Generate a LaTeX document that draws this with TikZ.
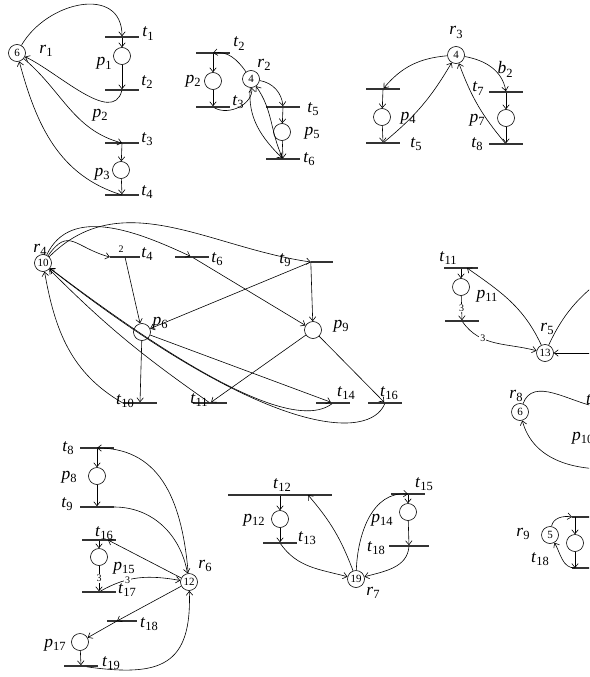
\documentclass[tikz,border=0pt]{standalone}
\usepackage{fontspec}
\setmainfont{Liberation Serif}
\usetikzlibrary{arrows.meta}

\newcommand{\nm}[2]{\textit{#1}\raisebox{-3.5pt}{\fontsize{12.5}{12.5}\selectfont #2}}

\begin{document}
\begin{tikzpicture}[x=1pt,y=1pt,
    place/.style={circle,draw,line width=0.6pt,minimum size=17pt,inner sep=0pt,font=\fontsize{11}{11}\selectfont},
    bar/.style={fill=black!80,minimum width=34pt,minimum height=1.2pt,inner sep=0pt},
    arr/.style={-{Straight Barb[length=4pt,width=6.5pt]},line width=0.6pt},
    lbl/.style={inner sep=0pt,anchor=base,font=\fontsize{17.5}{18}\selectfont},
    wt/.style={inner sep=0.8pt,fill=white,font=\fontsize{10}{10}\selectfont}
  ]
  \useasboundingbox (0,0) rectangle (589,-677);
  \clip (0,0) rectangle (589,-677);

  \node[place] (r1) at (17,-53) {6};
  \node[bar] (t1) at (122,-37) {};
  \node[place] (p1) at (122,-56) {};
  \node[bar] (t2) at (122,-90) {};
  \node[bar] (t3) at (122,-143) {};
  \node[place] (p3) at (121,-170) {};
  \node[bar] (t4) at (122,-195) {};
  \node[lbl] (lr1) at (46,-53) {\nm{r}{1}};
  \node[lbl] (lt1) at (148,-37) {\nm{t}{1}};
  \node[lbl] (lp1) at (104,-66) {\nm{p}{1}};
  \node[lbl] (lt2) at (147,-85) {\nm{t}{2}};
  \node[lbl] (lp2) at (100,-117) {\nm{p}{2}};
  \node[lbl] (lt3) at (147,-142) {\nm{t}{3}};
  \node[lbl] (lp3) at (102,-176) {\nm{p}{3}};
  \node[lbl] (lt4) at (147,-195) {\nm{t}{4}};
  \draw[arr] (r1) to[out=60,in=90,looseness=1.3] (t1);
  \draw[arr] (t1) -- (p1);
  \draw[arr] (p1) -- (t2);
  \draw[arr] (t2) to[out=-105,in=-25,looseness=0.9] (r1);
  \draw[arr] (r1) to[out=-40,in=165] (t3.center);
  \draw[arr] (t3) -- (p3);
  \draw[arr] (p3) -- (t4);
  \draw[arr] (t4.center) to[out=163,in=-75] (r1);

  \node[place] (r2) at (251,-79) {4};
  \node[bar] (r2t2) at (213,-53) {};
  \node[place] (r2p2) at (213,-81) {};
  \node[bar] (r2t3) at (213,-107) {};
  \node[bar] (r2t5) at (283,-107) {};
  \node[place] (r2p5) at (282,-132) {};
  \node[bar] (r2t6) at (283,-159) {};
  \node[lbl] (lr2) at (264,-67) {\nm{r}{2}};
  \node[lbl] (lr2t2) at (239,-47) {\nm{t}{2}};
  \node[lbl] (lr2p2) at (193,-83) {\nm{p}{2}};
  \node[lbl] (lr2t3) at (238,-105) {\nm{t}{3}};
  \node[lbl] (lr2t5) at (313,-112) {\nm{t}{5}};
  \node[lbl] (lr2p5) at (312,-135) {\nm{p}{5}};
  \node[lbl] (lr2t6) at (309,-162) {\nm{t}{6}};
  \draw[arr] (r2) to[out=125,in=10] (r2t2.center);
  \draw[arr] (r2t2) -- (r2p2);
  \draw[arr] (r2p2) -- (r2t3);
  \draw[arr] (r2t3) to[out=-30,in=-85] (r2);
  \draw[arr] (r2) to[out=-10,in=95] (r2t5);
  \draw[arr] (r2t5) -- (r2p5);
  \draw[arr] (r2p5) -- (r2t6);
  \draw[arr] (r2) to[out=-95,in=135] (r2t6);
  \draw[arr] (r2t6) to[out=115,in=-55] (r2);

  \node[place] (r3) at (456,-55) {4};
  \node[bar] (r3t4) at (383,-89) {};
  \node[place] (r3p4) at (382,-117) {};
  \node[bar] (r3t5) at (383,-143) {};
  \node[bar] (r3t7) at (506,-92) {};
  \node[place] (r3p7) at (506,-118) {};
  \node[bar] (r3t8) at (506,-144) {};
  \node[lbl] (lr3) at (456,-35) {\nm{r}{3}};
  \node[lbl] (lr3p4) at (408,-120) {\nm{p}{4}};
  \node[lbl] (lr3t5) at (416,-147) {\nm{t}{5}};
  \node[lbl] (lr3t7) at (478,-92) {\nm{t}{7}};
  \node[lbl] (lr3b2) at (505,-74) {\nm{b}{2}};
  \node[lbl] (lr3p7) at (477,-122) {\nm{p}{7}};
  \node[lbl] (lr3t8) at (477,-147) {\nm{t}{8}};
  \draw[arr] (r3) to[out=185,in=50] (r3t4);
  \draw[arr] (r3t4) -- (r3p4);
  \draw[arr] (r3p4) -- (r3t5);
  \draw[arr] (r3t5) to[bend right=10] (r3);
  \draw[arr] (r3) to[out=-10,in=100] (r3t7);
  \draw[arr] (r3t7) -- (r3p7);
  \draw[arr] (r3p7) -- (r3t8);
  \draw[arr] (r3t8) to[bend left=10] (r3);

  \node[place] (r4) at (43,-263) {10};
  \node[bar,minimum width=30pt] (r4t4) at (125,-257) {};
  \node[bar] (r4t6) at (192,-257) {};
  \node[bar,minimum width=22pt] (r4t9) at (322,-262) {};
  \node[place] (r4p6) at (142,-332) {};
  \node[place] (r4p9) at (313,-330) {};
  \node[bar] (r4t10) at (140,-403) {};
  \node[bar] (r4t11) at (210,-403) {};
  \node[bar] (r4t14) at (333,-403) {};
  \node[bar] (r4t16) at (385,-403) {};
  \node[lbl] (lr4) at (40,-252) {\nm{r}{4}};
  \node[wt,fill=none,anchor=base] (w4) at (121,-252) {2};
  \node[lbl] (lr4t4) at (147,-257) {\nm{t}{4}};
  \node[lbl] (lr4t6) at (217,-262) {\nm{t}{6}};
  \node[lbl] (lr4t9) at (285,-263) {\nm{t}{9}};
  \node[lbl] (lr4p6) at (160,-325) {\nm{p}{6}};
  \node[lbl] (lr4p9) at (341,-328) {\nm{p}{9}};
  \node[lbl] (lr4t10) at (125,-404) {\nm{t}{10}};
  \node[lbl] (lr4t11) at (199,-403) {\nm{t}{11}};
  \node[lbl] (lr4t14) at (346,-396) {\nm{t}{14}};
  \node[lbl] (lr4t16) at (389,-396) {\nm{t}{16}};
  \draw[arr] (r4) to[out=55,in=165,looseness=1.5] (r4t4.west);
  \draw[arr] (r4) to[out=65,in=155] (r4t6);
  \draw[arr] (r4) to[out=45,in=172] (r4t9.west);
  \draw[arr] (r4t4) -- (r4p6);
  \draw[arr] (r4t6) -- (r4p9);
  \draw[arr] (r4t9.west) -- (r4p9);
  \draw[arr] (r4t9.west) -- (r4p6);
  \draw[arr] (r4p6) -- (r4t10);
  \draw[arr] (r4p6) -- (r4t14);
  \draw[arr] (r4p9) -- (r4t11);
  \draw[arr] (r4p9) -- (r4t16);
  \draw[arr] (r4t10.west) to[out=150,in=-80] (r4);
  \draw[arr] (r4t11) to[out=145,in=-45] (r4);
  \draw[arr] (r4t14) .. controls (310,-420) and (250,-420) .. (r4);
  \draw[arr] (r4t16) .. controls (370,-440) and (270,-440) .. (r4);

  \node[bar] (r5t11) at (461,-268) {};
  \node[place] (r5p11) at (461,-287) {};
  \node[bar] (r5tb) at (462,-321) {};
  \node[place] (r5) at (545,-353) {13};
  \coordinate (r5out) at (615,-270);
  \coordinate (r5in) at (625,-353);
  \node[lbl] (lr5t11) at (448,-261) {\nm{t}{11}};
  \node[lbl] (lr5p11) at (487,-298) {\nm{p}{11}};
  \node[lbl] (lr5) at (547,-331) {\nm{r}{5}};
  \draw[arr] (r5) to[out=115,in=-35] ([xshift=6pt]r5t11.center);
  \draw[arr] (r5t11) -- (r5p11);
  \draw[arr] (r5p11) -- node[wt]{3} (r5tb);
  \draw[arr] (r5tb) to[out=-55,in=165] node[wt,pos=0.33]{3} (r5);
  \draw[arr] (r5) to[out=65,in=215] (r5out);
  \draw[arr] (r5in) -- (r5);

  \node[place] (r8) at (520,-412) {6};
  \coordinate (r8out) at (598,-407);
  \coordinate (r8in) at (605,-469);
  \node[lbl] (lr8) at (516,-398) {\nm{r}{8}};
  \node[lbl,anchor=base west] (lr8t) at (586,-404) {\textit{t}};
  \node[lbl,anchor=base west] (lr8p) at (572,-440) {\nm{p}{10}};
  \draw[arr] (r8) to[out=70,in=170] (r8out);
  \draw[arr] (r8in) to[out=180,in=-75] (r8);

  \node[place] (r9) at (550,-535) {5};
  \node[bar,anchor=west] (r9ta) at (572,-517) {};
  \node[place] (r9p) at (575,-543) {};
  \node[bar,anchor=west] (r9tb) at (572,-568) {};
  \node[lbl] (lr9) at (523,-536) {\nm{r}{9}};
  \node[lbl] (lr9t18) at (540,-562) {\nm{t}{18}};
  \draw[arr] (r9) to[out=80,in=170] (r9ta.west);
  \draw[arr] (r9ta.west -| r9p) -- (r9p);
  \draw[arr] (r9p) -- (r9tb.west -| r9p);
  \draw[arr] (r9tb.west -| r9p) to[out=180,in=-60] (r9);

  \node[bar] (r6t8) at (97,-448) {};
  \node[place] (r6p8) at (97,-476) {};
  \node[bar] (r6t9) at (97,-507) {};
  \node[bar] (r6t16) at (99,-540) {};
  \node[place] (r6p15) at (99,-557) {};
  \node[bar] (r6t17) at (99,-592) {};
  \node[place] (r6) at (189,-582) {12};
  \node[bar,minimum width=30pt] (r6t18) at (122,-621) {};
  \node[place] (r6p17) at (80,-642) {};
  \node[bar] (r6t19) at (81,-666) {};
  \node[lbl] (lr6t8) at (68,-451) {\nm{t}{8}};
  \node[lbl] (lr6p8) at (69,-479) {\nm{p}{8}};
  \node[lbl] (lr6t9) at (67,-507) {\nm{t}{9}};
  \node[lbl] (lr6t16) at (104,-536) {\nm{t}{16}};
  \node[lbl] (lr6p15) at (124,-570) {\nm{p}{15}};
  \node[lbl] (lr6t17) at (127,-593) {\nm{t}{17}};
  \node[lbl] (lr6) at (205,-568) {\nm{r}{6}};
  \node[lbl] (lr6t18) at (149,-627) {\nm{t}{18}};
  \node[lbl] (lr6p17) at (55,-647) {\nm{p}{17}};
  \node[lbl] (lr6t19) at (111,-666) {\nm{t}{19}};
  \draw[arr] (r6) to[out=95,in=0,looseness=1.1] (r6t8.center);
  \draw[arr] (r6t8) -- (r6p8);
  \draw[arr] (r6p8) -- (r6t9);
  \draw[arr] (r6t9.east) to[out=0,in=100] (r6);
  \draw[arr] (r6) -- ([xshift=9pt]r6t16.center);
  \draw[arr] (r6t16) -- (r6p15);
  \draw[arr] (r6p15) -- node[wt]{3} (r6t17);
  \draw[arr] (r6t17) to[out=30,in=170] node[wt,pos=0.35]{3} (r6);
  \draw[arr] (r6) -- ([xshift=-5pt]r6t18.center);
  \draw[arr] ([xshift=-5pt]r6t18.center) -- (r6p17);
  \draw[arr] (r6p17) -- (r6t19);
  \draw[arr] (r6t19) to[out=-8,in=-88,looseness=1.5] (r6);

  \node[bar,minimum width=104pt] (r7t12) at (280,-495) {};
  \node[place] (r7p12) at (280,-519) {};
  \node[bar] (r7t13) at (280,-543) {};
  \node[place] (r7) at (356,-579) {19};
  \node[bar] (r7t15) at (408,-494) {};
  \node[place] (r7p14) at (408,-512) {};
  \node[bar,minimum width=40pt] (r7t18) at (409,-546) {};
  \node[lbl] (lr7t12) at (282,-488) {\nm{t}{12}};
  \node[lbl] (lr7p12) at (254,-522) {\nm{p}{12}};
  \node[lbl] (lr7t13) at (307,-541) {\nm{t}{13}};
  \node[lbl] (lr7) at (373,-595) {\nm{r}{7}};
  \node[lbl] (lr7t15) at (424,-487) {\nm{t}{15}};
  \node[lbl] (lr7p14) at (382,-522) {\nm{p}{14}};
  \node[lbl] (lr7t18) at (376,-551) {\nm{t}{18}};
  \draw[arr] (r7) to[bend right=10] ([xshift=28pt]r7t12.center);
  \draw[arr] (r7t12) -- (r7p12);
  \draw[arr] (r7p12) -- (r7t13);
  \draw[arr] (r7t13) to[out=-55,in=165] (r7);
  \draw[arr] (r7) to[out=88,in=175] (r7t15.center);
  \draw[arr] (r7t15) -- (r7p14);
  \draw[arr] (r7p14) -- (r7t18);
  \draw[arr] (r7t18) to[out=-95,in=15] (r7);
\end{tikzpicture}
\end{document}
